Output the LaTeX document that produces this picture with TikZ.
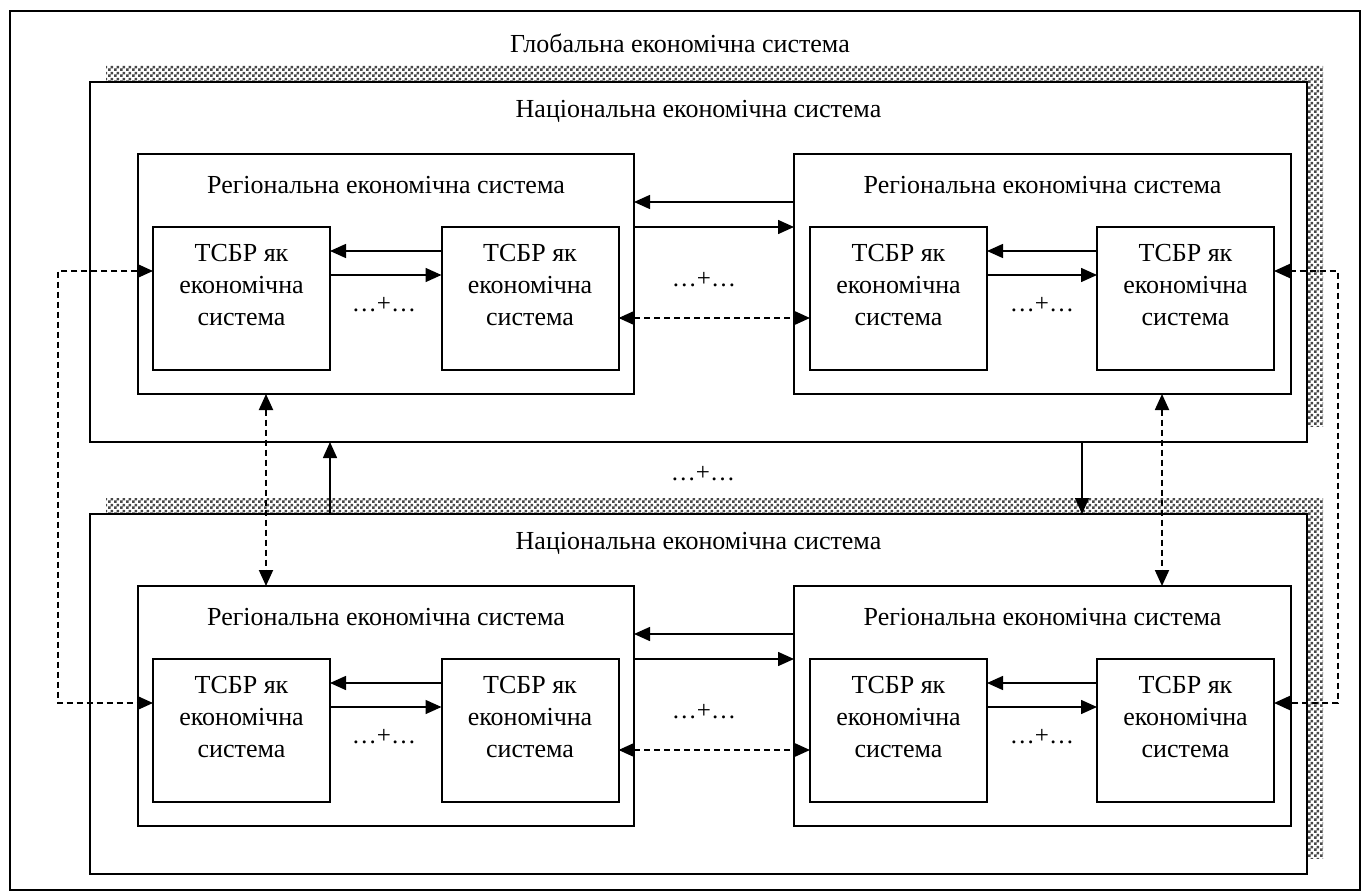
\documentclass[tikz,border=0pt]{standalone}
\usepackage{fontspec}
\setmainfont{Liberation Serif}
\usetikzlibrary{arrows.meta,patterns,calc}

% fine grey checkerboard used for the drop shadows
\pgfdeclarepatternformonly{checks}{\pgfpointorigin}{\pgfqpoint{6pt}{6pt}}{\pgfqpoint{6pt}{6pt}}{%
  \pgfpathrectangle{\pgfpointorigin}{\pgfqpoint{3pt}{3pt}}%
  \pgfpathrectangle{\pgfqpoint{3pt}{3pt}}{\pgfqpoint{3pt}{3pt}}%
  \pgfusepath{fill}}

\begin{document}
\begin{tikzpicture}[x=1pt,y=-1pt,
  txt/.style={font=\fontsize{26}{32}\selectfont, inner sep=0pt, align=center},
  dots/.style={font=\fontsize{25}{28}\selectfont, inner sep=0pt},
  outerbox/.style={draw, line width=2pt, rectangle, inner sep=0pt, outer sep=0pt},
  natbox/.style={draw, line width=2.2pt, fill=white, rectangle, inner sep=0pt, outer sep=0pt,
                 minimum width=1217pt, minimum height=360pt},
  regbox/.style={draw, line width=2pt, fill=white, rectangle, inner sep=0pt, outer sep=0pt,
                 minimum width=496pt, minimum height=240pt},
  unitbox/.style={draw, line width=2pt, fill=white, rectangle, inner sep=0pt, outer sep=0pt,
                 minimum width=177pt, minimum height=143pt},
  shade/.style={pattern=checks, pattern color=black!72},
  arr/.style={line width=1.5pt, -{Triangle[length=16pt,width=14pt]}},
  darr/.style={line width=1.9pt, dash pattern=on 6pt off 4pt,
               {Triangle[length=16pt,width=14pt]}-{Triangle[length=16pt,width=14pt]}},
]
\useasboundingbox (0,0) rectangle (1362,893);

% global system frame
\node[outerbox, minimum width=1350pt, minimum height=879pt] (glob) at (685,450.5) {};
\node[txt] (globtitle) at (680,43) {Глобальна економічна система};

% shadows of the two national systems
\fill[shade] (106,66) rectangle (1323,426);
\fill[shade] (106,498) rectangle (1323,858);

% ---------- upper national system ----------
\node[natbox] (n1) at (698.5,262) {};
\node[txt] (n1title) at (698.5,111) {Національна економічна система};

\node[regbox] (r1) at (386,274) {};
\node[regbox, minimum width=497pt] (r2) at (1042.5,274) {};
\node[txt] (r1title) at (386,185) {Регіональна економічна система};
\node[txt] (r2title) at (1042.5,185) {Регіональна економічна система};

\node[unitbox] (u1) at (241.5,298.5) {};
\node[unitbox] (u2) at (530,298.5) {};
\node[unitbox] (u3) at (898.5,298.5) {};
\node[unitbox] (u4) at (1185.5,298.5) {};
\node[txt] (u1t) at (241.5,285) {ТСБР як\\економічна\\система};
\node[txt] (u2t) at (530,285) {ТСБР як\\економічна\\система};
\node[txt] (u3t) at (898.5,285) {ТСБР як\\економічна\\система};
\node[txt] (u4t) at (1185.5,285) {ТСБР як\\економічна\\система};

\draw[arr] (u2.west |- 0,251) -- (u1.east |- 0,251);
\draw[arr] (u1.east |- 0,275) -- (u2.west |- 0,275);
\draw[arr] (u4.west |- 0,251) -- (u3.east |- 0,251);
\draw[arr] (u3.east |- 0,275) -- (u4.west |- 0,275);
\node[dots] (u12dots) at (384,305) {…+…};
\node[dots] (u34dots) at (1042,305) {…+…};

\draw[arr] (r2.west |- 0,202) -- (r1.east |- 0,202);
\draw[arr] (r1.east |- 0,227) -- (r2.west |- 0,227);
\node[dots] (r12dots) at (704,280) {…+…};
\draw[darr] (u2.east |- 0,318) -- (u3.west |- 0,318);

% ---------- lower national system ----------
\node[natbox] (m1) at (698.5,694) {};
\node[txt] (m1title) at (698.5,543) {Національна економічна система};

\node[regbox] (s1) at (386,706) {};
\node[regbox, minimum width=497pt] (s2) at (1042.5,706) {};
\node[txt] (s1title) at (386,617) {Регіональна економічна система};
\node[txt] (s2title) at (1042.5,617) {Регіональна економічна система};

\node[unitbox] (v1) at (241.5,730.5) {};
\node[unitbox] (v2) at (530,730.5) {};
\node[unitbox] (v3) at (898.5,730.5) {};
\node[unitbox] (v4) at (1185.5,730.5) {};
\node[txt] (v1t) at (241.5,717) {ТСБР як\\економічна\\система};
\node[txt] (v2t) at (530,717) {ТСБР як\\економічна\\система};
\node[txt] (v3t) at (898.5,717) {ТСБР як\\економічна\\система};
\node[txt] (v4t) at (1185.5,717) {ТСБР як\\економічна\\система};

\draw[arr] (v2.west |- 0,683) -- (v1.east |- 0,683);
\draw[arr] (v1.east |- 0,707) -- (v2.west |- 0,707);
\draw[arr] (v4.west |- 0,683) -- (v3.east |- 0,683);
\draw[arr] (v3.east |- 0,707) -- (v4.west |- 0,707);
\node[dots] (v12dots) at (384,737) {…+…};
\node[dots] (v34dots) at (1042,737) {…+…};

\draw[arr] (s2.west |- 0,634) -- (s1.east |- 0,634);
\draw[arr] (s1.east |- 0,659) -- (s2.west |- 0,659);
\node[dots] (s12dots) at (704,712) {…+…};
\draw[darr] (v2.east |- 0,750) -- (v3.west |- 0,750);

% ---------- links between the national systems ----------
\draw[arr] (m1.north -| 330,0) -- (n1.south -| 330,0);
\draw[arr] (n1.south -| 1082,0) -- (m1.north -| 1082,0);
\node[dots] (nmdots) at (703,474) {…+…};

\draw[darr] (r1.south -| 266,0) -- (s1.north -| 266,0);
\draw[darr] (r2.south -| 1162,0) -- (s2.north -| 1162,0);

% side loops between the outer units
\coordinate (lt) at (58,271);
\coordinate (lb) at (58,703);
\coordinate (rt) at (1338,271);
\coordinate (rb) at (1338,703);
\draw[darr] (u1.west |- lt) -- (lt) -- (lb) -- (v1.west |- lb);
\draw[darr] (u4.east |- rt) -- (rt) -- (rb) -- (v4.east |- rb);
\end{tikzpicture}
\end{document}
